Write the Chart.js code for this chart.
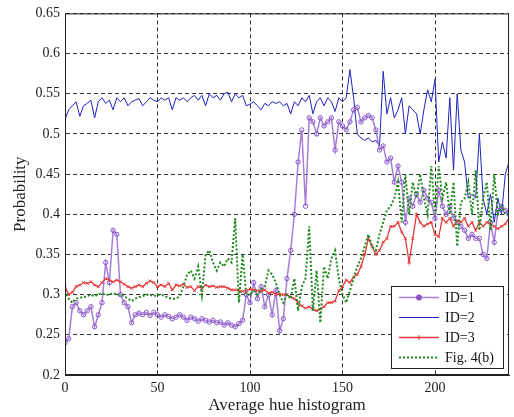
<!DOCTYPE html>
<html>
<head>
<meta charset="utf-8">
<script src="https://cdn.jsdelivr.net/npm/chart.js@4.4.1/dist/chart.umd.min.js"></script>
<style>
html,body{margin:0;padding:0;background:#fff;}
#wrap{width:514px;height:417px;position:relative;}
</style>
</head>
<body>
<div id="wrap"><canvas id="c" width="514" height="417"></canvas></div>
<script>
// x positions (Average hue histogram bins), step 2
const hueBins = [];
for (let b = 0; b <= 240; b += 2) hueBins.push(b);

const seriesLabels = ["ID=1", "ID=2", "ID=3", "Fig. 4(b)"];
const xTickValues = [0, 50, 100, 150, 200];
const yTickValues = [0.2, 0.25, 0.3, 0.35, 0.4, 0.45, 0.5, 0.55, 0.6, 0.65];

const id1 = [
0.24,0.245,0.285,0.29,0.28,0.275,0.28,0.285,0.26,0.275,
0.29,0.34,0.315,0.38,0.375,0.3,0.29,0.285,0.265,0.275,
0.277,0.275,0.278,0.274,0.278,0.275,0.272,0.275,0.273,0.27,
0.272,0.275,0.272,0.268,0.272,0.27,0.267,0.27,0.268,0.266,
0.268,0.265,0.266,0.262,0.265,0.262,0.26,0.264,0.268,0.3,
0.29,0.315,0.295,0.31,0.285,0.3,0.275,0.305,0.255,0.27,
0.32,0.355,0.4,0.465,0.505,0.41,0.52,0.515,0.5,0.52,
0.51,0.515,0.52,0.48,0.515,0.51,0.505,0.515,0.53,0.533,
0.515,0.52,0.523,0.52,0.505,0.48,0.485,0.465,0.47,0.44,
0.46,0.44,0.39,0.42,0.41,0.425,0.415,0.43,0.42,0.415,
0.395,0.43,0.41,0.4,0.41,0.395,0.39,0.385,0.38,0.37,
0.375,0.37,0.37,0.35,0.345,0.39,0.365,0.405,0.41,0.405,
0.4];

const id2 = [
0.518,0.53,0.535,0.54,0.522,0.535,0.538,0.542,0.52,0.54,
0.545,0.538,0.542,0.53,0.545,0.54,0.545,0.535,0.54,0.542,
0.544,0.535,0.54,0.545,0.542,0.54,0.545,0.542,0.545,0.53,
0.545,0.542,0.545,0.54,0.545,0.548,0.542,0.548,0.535,0.55,
0.545,0.548,0.542,0.55,0.552,0.54,0.55,0.545,0.548,0.535,
0.537,0.54,0.535,0.53,0.538,0.535,0.54,0.538,0.54,0.535,
0.538,0.525,0.54,0.535,0.545,0.54,0.548,0.525,0.54,0.545,
0.535,0.545,0.54,0.528,0.545,0.54,0.545,0.58,0.545,0.5,
0.495,0.492,0.495,0.49,0.492,0.485,0.578,0.525,0.545,0.52,
0.53,0.545,0.5,0.535,0.53,0.525,0.5,0.53,0.555,0.54,
0.568,0.465,0.49,0.47,0.545,0.455,0.55,0.48,0.465,0.42,
0.425,0.42,0.5,0.42,0.4,0.425,0.39,0.42,0.4,0.45,
0.465];

const id3 = [
0.31,0.3,0.303,0.31,0.312,0.315,0.314,0.316,0.312,0.31,
0.315,0.32,0.318,0.316,0.318,0.316,0.313,0.31,0.308,0.31,
0.312,0.31,0.314,0.317,0.315,0.31,0.312,0.31,0.314,0.306,
0.312,0.311,0.313,0.309,0.31,0.305,0.31,0.308,0.312,0.31,
0.311,0.309,0.31,0.31,0.308,0.306,0.306,0.305,0.304,0.305,
0.307,0.306,0.305,0.304,0.306,0.302,0.303,0.3,0.301,0.3,
0.3,0.297,0.295,0.29,0.286,0.283,0.285,0.282,0.28,0.282,
0.285,0.29,0.29,0.292,0.305,0.31,0.318,0.315,0.322,0.325,
0.335,0.35,0.37,0.36,0.35,0.355,0.365,0.37,0.385,0.385,
0.39,0.378,0.37,0.34,0.37,0.4,0.39,0.385,0.388,0.39,
0.375,0.372,0.395,0.39,0.395,0.385,0.392,0.39,0.395,0.385,
0.39,0.38,0.39,0.385,0.39,0.388,0.385,0.382,0.385,0.388,
0.395];

const fig4b = [
0.305,0.295,0.29,0.295,0.296,0.297,0.298,0.3,0.298,0.3,
0.302,0.3,0.3,0.302,0.3,0.3,0.298,0.295,0.292,0.295,
0.297,0.298,0.3,0.3,0.298,0.3,0.3,0.298,0.296,0.295,
0.295,0.298,0.31,0.325,0.33,0.32,0.335,0.3,0.35,0.355,
0.34,0.33,0.34,0.335,0.345,0.34,0.395,0.29,0.35,0.3,
0.3,0.305,0.3,0.305,0.31,0.33,0.325,0.315,0.3,0.29,
0.3,0.295,0.32,0.28,0.31,0.32,0.385,0.28,0.33,0.265,
0.335,0.32,0.345,0.355,0.32,0.3,0.29,0.305,0.32,0.335,
0.345,0.36,0.375,0.36,0.355,0.375,0.39,0.405,0.41,0.42,
0.44,0.39,0.45,0.4,0.44,0.42,0.45,0.42,0.4,0.46,
0.4,0.46,0.42,0.44,0.4,0.44,0.36,0.415,0.42,0.44,
0.4,0.455,0.38,0.42,0.44,0.38,0.45,0.4,0.41,0.4,
0.4];

const toXY = arr => arr.map((v, i) => ({x: hueBins[i], y: v}));

const SERIF = '"Liberation Serif","Times New Roman",serif';

const legendPlugin = {
  id: 'boxLegend',
  afterDraw(chart) {
    const ctx = chart.ctx;
    const a = chart.chartArea;
    ctx.save();
    ctx.strokeStyle = '#222';
    ctx.lineWidth = 1;
    ctx.setLineDash([]);
    ctx.strokeRect(a.left + 0.5, a.top + 0.5, a.right - a.left - 1, a.bottom - a.top - 1);
    const bx = 391, by = 286, bw = 112, bh = 82;
    ctx.fillStyle = '#fff';
    ctx.fillRect(bx, by, bw, bh);
    ctx.strokeStyle = '#222';
    ctx.strokeRect(bx + 0.5, by + 0.5, bw, bh);
    ctx.font = '14px ' + SERIF;
    ctx.textBaseline = 'middle';
    chart.data.datasets.forEach((ds, i) => {
      const y = by + 11 + i * 20;
      ctx.save();
      ctx.strokeStyle = ds.borderColor;
      ctx.lineWidth = ds.borderWidth;
      ctx.setLineDash(ds.borderDash || []);
      ctx.beginPath();
      ctx.moveTo(399, y + 0.5);
      ctx.lineTo(439, y + 0.5);
      ctx.stroke();
      ctx.setLineDash([]);
      if (ds.pointStyle === 'circle') {
        ctx.fillStyle = ds.pointBorderColor;
        ctx.beginPath();
        ctx.arc(419, y + 0.5, 3, 0, Math.PI * 2);
        ctx.fill();
      } else if (ds.pointStyle === 'crossRot') {
        ctx.strokeStyle = ds.pointBorderColor;
        ctx.lineWidth = 1;
        ctx.beginPath();
        ctx.moveTo(419, y - 2); ctx.lineTo(419, y + 3);
        ctx.stroke();
      }
      ctx.restore();
      ctx.fillStyle = '#111';
      ctx.fillText(ds.label, 445, y + 1);
    });
    ctx.restore();
  }
};

new Chart(document.getElementById('c'), {
  type: 'line',
  data: {
    datasets: [
      {
        label: seriesLabels[0], data: toXY(id1),
        borderColor: '#a57fd6', borderWidth: 1.5,
        pointStyle: 'circle', pointRadius: 2.2, pointBorderWidth: 1,
        pointBorderColor: '#8a55c8', pointBackgroundColor: 'rgba(255,255,255,0)',
        tension: 0, order: 2
      },
      {
        label: seriesLabels[1], data: toXY(id2),
        borderColor: '#1f23c0', borderWidth: 1,
        pointRadius: 0, tension: 0, order: 3
      },
      {
        label: seriesLabels[2], data: toXY(id3),
        borderColor: '#e8393a', borderWidth: 1.3,
        pointStyle: 'crossRot', pointRadius: 2, pointBorderWidth: 1,
        pointBorderColor: '#e8393a',
        tension: 0, order: 1
      },
      {
        label: seriesLabels[3], data: toXY(fig4b),
        borderColor: '#1f8a1f', borderWidth: 2, borderDash: [2, 2],
        pointRadius: 0, tension: 0, order: 0
      }
    ]
  },
  options: {
    responsive: false,
    animation: false,
    devicePixelRatio: 1,
    layout: { padding: { top: 13, right: 1, left: 0, bottom: 0 } },
    plugins: { legend: { display: false }, tooltip: { enabled: false } },
    scales: {
      x: {
        type: 'linear', min: 0, max: 240,
        afterFit(s) { s.height = 42; },
        afterBuildTicks(s) { s.ticks = xTickValues.map(v => ({value: v})); },
        ticks: { stepSize: 50, includeBounds: false, padding: 5, color: '#222',
                 font: { family: SERIF, size: 14 }, maxRotation: 0 },
        grid: { color: '#333', lineWidth: 1, drawTicks: false },
        border: { display: true, color: '#222', dash: [4, 3] },
        title: { display: true, text: 'Average hue histogram', color: '#222',
                 font: { family: SERIF, size: 17 }, padding: { top: 0, bottom: 1 } }
      },
      y: {
        type: 'linear', min: 0.2, max: 0.65,
        afterFit(s) { s.width = 65; },
        afterBuildTicks(s) { s.ticks = yTickValues.map(v => ({value: v})); },
        ticks: { padding: 5, color: '#222', font: { family: SERIF, size: 14 },
                 callback: v => String(Number(v.toFixed(2))) },
        grid: { color: '#333', lineWidth: 1, drawTicks: false },
        border: { display: true, color: '#222', dash: [4, 3] },
        title: { display: true, text: 'Probability', color: '#222',
                 font: { family: SERIF, size: 17 }, padding: { top: 10, bottom: 0 } }
      }
    }
  },
  plugins: [legendPlugin]
});
</script>
</body>
</html>
